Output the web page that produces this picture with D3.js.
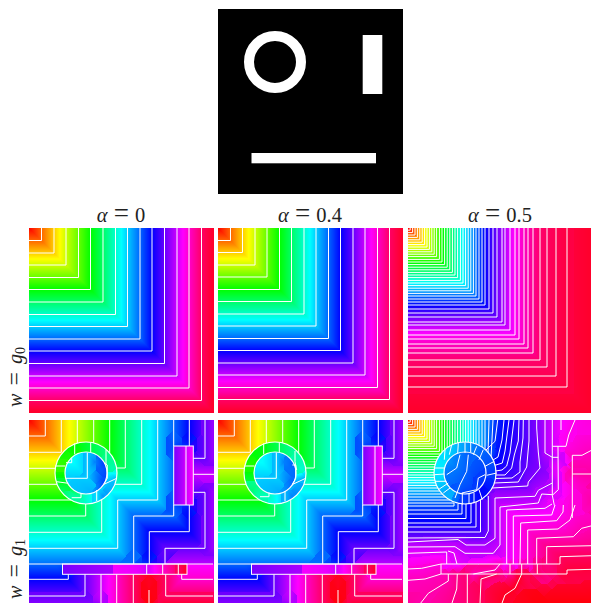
<!DOCTYPE html>
<html>
<head>
<meta charset="utf-8">
<script src="https://cdn.jsdelivr.net/npm/d3@7"></script>
<style>
html, body { margin: 0; padding: 0; background: #fff; }
svg { display: block; }
text { font-family: "Liberation Serif", serif; fill: #222; }
</style>
</head>
<body>
<svg id="fig" width="591" height="603"></svg>
<script>
var svg = d3.select("#fig");

// labels
var alphas = ["0", "0.4", "0.5"];
var rowNames = ["0", "1"];

// panel left/top edges, everything else is in image units 0..184
var colX = [29, 218, 408];
var rowY = [228, 420];
var topX = 218, topY = 9;
var side = 184;

// the input mask (ring + two bars)
var ring = { cx: 57, cy: 53, r0: 21, r1: 31 };
var rightBar = { x0: 144.7, x1: 164.3, y0: 26, y1: 85 };
var lowBar = { x0: 33.5, x1: 158, y0: 144, y1: 154.3 };

// contour positions of the plain L shaped fronts
var levelsA0 = [12.5, 25, 37, 49.5, 61.5, 74, 86.5, 98.5, 111, 123, 135.5, 148, 160, 172.5];
var levelsA04 = [12.5, 24.5, 37, 49, 61.5, 73.5, 86, 98, 110.5, 122.5, 135, 147, 159.5, 171.5];
var levelsA05 = [2.2, 4.6, 7, 9.4, 11.8, 14.2, 16.6, 19, 21.4, 23.8, 26.2, 28.6, 31.4, 34, 36.6, 39.2, 41.8, 44.4, 47, 49.6, 52.4, 55, 57.6, 60.2, 62.8, 65.4, 68, 71, 74, 77, 81, 85, 89, 94, 97, 102, 107, 111, 116, 120, 125, 132, 139, 148, 159];

var hueA05 = d3.scaleLinear([0, 17, 35, 55, 77, 105, 132, 159, 184], [0, 60, 120, 180, 240, 300, 335, 345, 350]);
var hueG1 = d3.scaleLinear([0, 17, 36, 60, 93, 128, 154, 184], [0, 60, 120, 180, 235, 270, 300, 315]);

// w = g1, alpha 0 and 0.4: outer field
var mainG1 = [
  [24, [16.3, 0], [16.3, 16], [0, 16]],
  [48, [32.3, 0], [32.3, 32.3], [0, 32.3]],
  [72, [48.3, 0], [48.3, 23]],
  [72, [0, 48.3], [26.5, 48.3]],
  [96, [64.7, 0], [64.7, 23]],
  [96, [0, 64.3], [28, 64.3]],
  [120, [80.7, 0], [80.7, 33]],
  [120, [0, 80], [42, 80]],
  [144, [96.3, 0], [96.3, 48], [87.6, 48]],
  [144, [0, 96], [56.7, 96], [56.7, 84]],
  [168, [112.7, 0], [112.7, 64.3], [85.5, 64.3]],
  [168, [0, 112.3], [72.7, 112.3], [72.7, 80]],
  [192, [128.7, 0], [128.7, 80], [88.7, 80], [88.7, 128.3], [0, 128.3]],
  [216, [144.7, 0], [144.7, 26]],
  [216, [144.7, 85], [144.7, 96], [104.7, 96], [104.7, 144]],
  [240, [160.3, 0], [160.3, 26]],
  [240, [160.3, 85], [160.3, 111.7], [120.3, 111.7], [120.3, 144]],
  [264, [176, 0], [176, 38.3], [164.3, 38.3]],
  [264, [164.3, 72.3], [176, 72.3], [176, 128.3], [136, 128.3], [136, 144]],
  [288, [164.3, 54.3], [185, 54.3]]
];
var mainG1Hidden = [
  [0, [0, 0], [0, 0]],
  [276, [184, 0], [184, 38]],
  [277, [184, 72], [184, 128]],
  [214, [0, 144], [104, 144]],
  [228, [105, 144], [120, 144]],
  [252, [121, 144], [135, 144]],
  [284, [137, 144], [184, 144]],
  [216, [144.7, 26], [144.7, 85]],
  [228, [146, 26], [159, 26]],
  [228, [146, 85], [159, 85]],
  [252, [162, 26], [164.3, 26]],
  [252, [162, 85], [164.3, 85]]
];
// below the long bar
var southG1 = [
  [240, [0, 159.3], [39.3, 159.3], [39.3, 154.3]],
  [264, [0, 176], [56, 176], [56, 154.3]],
  [288, [72, 154.3], [72, 184]],
  [312, [87.7, 154.3], [87.7, 184]],
  [336, [104.3, 154.3], [104.3, 184]],
  [358, [120, 170], [120, 184]],
  [336, [136.7, 154.3], [136.7, 176], [184, 176]],
  [312, [152.7, 154.3], [152.7, 159.3], [184, 159.3]]
];
var southG1Hidden = [
  [216, [0, 144], [33, 144]],
  [272, [0, 184], [70, 184]],
  [352, [120, 155], [120, 170]],
  [348, [137, 184], [184, 184]],
  [298, [159, 144], [184, 144]]
];
// inside the two bars
var rightBarG1 = [[288, [157, 26], [157, 85]]];
var rightBarG1Hidden = [[268, [144.7, 26], [144.7, 85]], [300, [164.3, 26], [164.3, 85]]];
var lowBarG1 = [
  [288, [117.7, 144], [117.7, 154.3]],
  [312, [133.7, 144], [133.7, 154.3]],
  [336, [149.3, 144], [149.3, 154.3]]
];
var lowBarG1Hidden = [[268, [33.5, 144], [33.5, 154.3]], [352, [158, 144], [158, 154.3]]];

// ring and disc, alpha 0
var annulusA0 = [
  [120, [45.7, 23.3], [45.7, 34.3]],
  [135, [61.7, 22.7], [61.7, 32.7]],
  [150, [77, 30], [77, 45]],
  [108, [26, 46], [36, 46]],
  [112, [42.7, 38.3], [42.7, 42.7], [37, 42.7]],
  [128, [27.7, 61.7], [39.3, 63.3]],
  [160, [52, 73.3], [52, 77.7], [42.7, 77.7]],
  [185, [67.7, 70], [67.7, 81]],
  [195, [87.7, 58.3], [75, 64.3]]
];
var annulusA0Hidden = [[205, [74, 76], [74, 76]], [162, [83, 48], [83, 48]], [142, [34, 70], [34, 70]], [117, [36, 32], [36, 32]]];
var discA0 = [
  [192, [58.3, 32.7], [58.3, 58.3], [36.7, 58.3]],
  [225, [75, 42.7], [78.3, 45], [78.3, 58.3], [75, 64]]
];
var discA0Hidden = [[178, [42, 40], [42, 40]], [198, [62, 72], [62, 72]], [210, [66, 42], [66, 42]]];

// ring and disc, alpha 0.4
var annulusA04 = [
  [125, [45.7, 23.3], [45.7, 34.3]],
  [140, [61.3, 22.7], [61.3, 32.7]],
  [158, [77, 31], [77, 41.7], [78.7, 50]],
  [112, [26.3, 46], [36.3, 46]],
  [165, [42, 76.7], [51, 76.7], [51, 72.7]],
  [195, [67, 71], [67, 81]],
  [200, [87.7, 58.3], [74.7, 64.3]]
];
var annulusA04Hidden = [[210, [74, 76], [74, 76]], [170, [83, 48], [83, 48]], [146, [34, 70], [34, 70]], [120, [36, 32], [36, 32]]];
var discA04 = [
  [192, [58.3, 32.7], [58.3, 58.3], [36.3, 58.3]],
  [216, [74.3, 45], [77.7, 45], [77.7, 58.3], [74.3, 64.3]]
];
var discA04Hidden = [[178, [42, 40], [42, 40]], [200, [62, 72], [62, 72]], [210, [66, 42], [66, 42]]];

// w = g1, alpha 0.5: fronts that turn around the ring and the bars
var cornerG1A05 = [2.2, 4.6, 7, 9.4, 11.8, 14.2, 16.6, 19, 21.4, 23.8, 26.2, 28.6, 31.4, 34, 36.6, 39.2, 41.8, 44.4, 47, 49.6, 52.4, 55, 57.6, 60.2, 62.8, 65.4, 68, 71, 74];
var mainA05 = [
  [hueG1(77), [77, 0], [77, 32]],
  [hueG1(81), [81, 0], [80, 34]],
  [hueG1(85), [85, 0], [83, 38]],
  [hueG1(77), [0, 77], [38, 77]],
  [hueG1(80), [0, 80], [42, 80]],
  [hueG1(83), [0, 83], [46, 83]],
  [232, [89.7, 0], [87, 21.3], [78, 30]],
  [238, [96, 0], [94, 20], [90, 37], [85, 40]],
  [243, [101, 0], [97, 31], [94.3, 43], [88, 45], [86, 45]],
  [248, [106, 0], [102, 33], [98.7, 46], [94, 50], [87.5, 51]],
  [253, [111, 0], [110.3, 21], [106.3, 35], [103.7, 48], [97, 55], [88, 55]],
  [257, [115.3, 0], [115, 18], [112, 42], [112, 52], [104, 58], [87, 58.5]],
  [263, [121, 0], [121, 21], [118.7, 47], [110.3, 62], [86, 63]],
  [270, [128.7, 0], [128.7, 8], [130.3, 32], [132, 48], [120.3, 62], [119.7, 66], [84, 68]],
  [282, [137, 0], [137, 33], [144.3, 37.3], [150.3, 37.3]],
  [224, [0, 86], [46, 86], [46, 83]],
  [229, [0, 90], [50, 90], [50, 84]],
  [233, [0, 94], [54, 94], [54, 84]],
  [238, [0, 98.5], [58, 98.5], [58, 84]],
  [243, [0, 103], [63, 103], [63, 83]],
  [249, [0, 107], [68, 107], [68, 82]],
  [256, [0, 112], [72.5, 112], [72.5, 80]],
  [266, [0, 118], [77, 117.5], [80.3, 111], [80.3, 76]],
  [280, [0, 122], [50, 119.5], [58, 125], [77, 125], [87, 118.3], [87, 78], [127, 76.3], [130.3, 70.3], [144.3, 63]],
  [287, [0, 127], [47, 126.7], [57, 133.3], [85.3, 133.3], [92, 125], [92, 87], [130.3, 83], [133.7, 74], [144.3, 74.7]],
  [295, [0, 133.3], [38.7, 132], [38.7, 144]],
  [295, [40, 131], [46, 133], [49, 144]],
  [295, [98.7, 144], [98.7, 90], [137, 88.3], [144, 84]],
  [300, [105.3, 144], [105.3, 96], [143.7, 95], [147, 85]],
  [305, [112, 144], [112.7, 103], [148.7, 100.7], [155, 92], [155.3, 85]],
  [310, [119.7, 144], [119.7, 110], [150, 109], [162, 100], [167, 85]],
  [318, [128.7, 144], [128.7, 118.3], [165.3, 116.7], [173.7, 108.3], [184, 105.7]],
  [328, [138.7, 144], [138.7, 126.7], [184, 125.7]],
  [338, [152, 144], [152, 136.7], [184, 135.7]],
  [346, [159, 154], [159, 150], [184, 149.3]],
  [308, [0, 149], [13.7, 148.3], [33, 144]],
  [316, [0, 160.3], [17, 159], [33, 154]],
  [320, [12, 184], [20.3, 173.3], [40.3, 161], [40.3, 154]],
  [328, [43.7, 184], [48.7, 169], [49.3, 154]],
  [334, [59.3, 184], [59.3, 154]],
  [340, [72, 184], [73, 159], [88.7, 154]],
  [352, [93.7, 184], [97, 175], [107, 168.3], [113.7, 154]],
  [315, [65.3, 154], [87, 150], [92, 144]],
  [322, [102, 144], [102, 154]],
  [330, [113.7, 144], [113.7, 154]],
  [338, [129.3, 144], [129.3, 154]],
  [290, [144.3, 0], [144.3, 26.3]],
  [296, [150, 26.3], [150.3, 69.7], [144.3, 75.3]],
  [298, [153, 0], [153, 10]],
  [305, [167, 0], [160.7, 15], [158, 26.3]],
  [315, [164.3, 35.3], [174, 35.3], [184, 30]],
  [322, [164.3, 54], [184, 54]]
];
var mainA05Hidden = [
  [0, [0, 0], [0, 0]],
  [308, [184, 0], [184, 0]],
  [321, [184, 80], [184, 80]],
  [323, [0, 184], [0, 184]],
  [358, [184, 184], [130, 184]],
  [308, [164.3, 60], [164.3, 85]]
];
// outlines that belong to the mask, not to a level
var outlineA05 = [
  [[33, 144], [152, 144]],
  [[33, 144], [33, 154], [159, 154]],
  [[144.3, 26.3], [144.3, 75.3], [146.3, 85.3]],
  [[144.3, 26.3], [158, 26.3]],
  [[164.3, 35.3], [164.3, 98]]
];
var annulusA05 = [
  [186, [37, 29.7], [36.3, 39.7]],
  [192, [43.7, 24.7], [41.3, 34.7]],
  [198, [50.3, 23], [49.7, 33]],
  [203, [57, 22.3], [57, 33]],
  [208, [62.7, 23], [62.7, 32.3]],
  [212, [68.7, 26.3], [65.3, 34.7]],
  [217, [75.3, 29.7], [71, 39.7]],
  [222, [86.3, 41.3], [77, 46.3]],
  [227, [88.7, 53], [78.7, 55.3]],
  [184, [27, 48], [36.3, 48]],
  [186, [26.3, 54.7], [36.3, 54]],
  [190, [27, 61.3], [38.7, 61.3]],
  [195, [30.3, 69.7], [40.3, 63]],
  [200, [35.3, 73], [42, 68]],
  [225, [54.3, 84.7], [54.3, 73]],
  [230, [61, 84], [61, 74]],
  [235, [66, 83.3], [66, 73]],
  [240, [74.3, 79.7], [71, 69.7]]
];
var discA05 = [
  [212, [38.7, 54.7], [48.7, 48], [52, 34.7]],
  [218, [60.3, 34.7], [58.7, 51.3], [52, 64.7], [47, 78]],
  [225, [77, 54.7], [70.3, 58], [68.7, 69.7], [53.7, 73]]
];
var discA05Hidden = [[206, [42, 42], [42, 42]], [230, [72, 64], [72, 64]]];

function ell(levels, hue) {
  return levels.map(function (p, i) { return [hue(p, i), [p, 0], [p, p], [0, p]]; });
}
var stepHue = function (p, i) { return (i + 1) * 24; };

// keep one rectangle per straight run, so the distance test below stays cheap
function toBoxes(lines) {
  var boxes = [];
  lines.forEach(function (l) {
    for (var i = 1; i < l.length - 1; i++) {
      var a = l[i], b = l[i + 1];
      var n = (a[0] == b[0] || a[1] == b[1]) ? 1 : Math.ceil(Math.hypot(b[0] - a[0], b[1] - a[1]) / 2);
      for (var k = 0; k < n; k++) {
        var xa = a[0] + (b[0] - a[0]) * k / n, xb = a[0] + (b[0] - a[0]) * (k + 1) / n;
        var ya = a[1] + (b[1] - a[1]) * k / n, yb = a[1] + (b[1] - a[1]) * (k + 1) / n;
        boxes.push([l[0], Math.min(xa, xb), Math.max(xa, xb), Math.min(ya, yb), Math.max(ya, yb)]);
      }
    }
  });
  return boxes;
}

function hueAt(boxes, x, y) {
  var d1 = 1e9, d2 = 1e9, h1 = 0, h2 = 0;
  for (var i = 0; i < boxes.length; i++) {
    var b = boxes[i];
    var dx = Math.max(b[1] - x, x - b[2], 0), dy = Math.max(b[3] - y, y - b[4], 0);
    var d = Math.max(dx, dy);
    if (d < d1) {
      if (b[0] != h1) { d2 = d1; h2 = h1; }
      d1 = d; h1 = b[0];
    } else if (b[0] != h1 && d < d2) { d2 = d; h2 = b[0]; }
  }
  return d1 + d2 == 0 ? h1 : (h1 * d2 + h2 * d1) / (d1 + d2);
}

function inRect(r, x, y) { return x >= r.x0 && x <= r.x1 && y >= r.y0 && y <= r.y1; }

// paint the hue field to an image; pick(x,y) says which box list a pixel uses
function fieldImage(pick) {
  var c = document.createElement("canvas");
  c.width = c.height = side + 1;
  var ctx = c.getContext("2d"), img = ctx.createImageData(side + 1, side + 1);
  for (var y = 0; y <= side; y++) {
    for (var x = 0; x <= side; x++) {
      var col = d3.hsl(hueAt(pick(x + 0.5, y + 0.5), x + 0.5, y + 0.5), 1, 0.5).rgb();
      var o = 4 * (y * (side + 1) + x);
      img.data[o] = col.r; img.data[o + 1] = col.g; img.data[o + 2] = col.b; img.data[o + 3] = 255;
    }
  }
  ctx.putImageData(img, 0, 0);
  return c.toDataURL();
}

var lineGen = d3.line();
function drawPanel(left, top, pick, lines, hasRing, idx) {
  var sx = d3.scaleLinear([0, side], [left, left + side]);
  var sy = d3.scaleLinear([0, side], [top, top + side]);
  var g = svg.append("g");
  g.append("image").attr("x", left).attr("y", top).attr("width", side + 1).attr("height", side + 1)
    .attr("href", fieldImage(pick));
  var toPath = function (pts) { return lineGen(pts.map(function (p) { return [sx(p[0]), sy(p[1])]; })); };
  // frame clip, with the ring cut out for the outer fronts
  var p = d3.path();
  p.rect(left, top, side + 1, side + 1);
  if (hasRing) {
    p.moveTo(sx(ring.cx + ring.r1), sy(ring.cy));
    p.arc(sx(ring.cx), sy(ring.cy), ring.r1, 0, 2 * Math.PI);
  }
  var clipId = "clip" + idx;
  svg.append("clipPath").attr("id", clipId).append("path").attr("d", p.toString()).attr("clip-rule", "evenodd");
  g.append("g").attr("clip-path", "url(#" + clipId + ")")
    .selectAll("path").data(lines.outer).enter().append("path")
    .attr("d", toPath).attr("fill", "none").attr("stroke", "#fff").attr("stroke-width", 1);
  g.append("g").selectAll("path").data(lines.inner || []).enter().append("path")
    .attr("d", toPath).attr("fill", "none").attr("stroke", "#fff").attr("stroke-width", 1);
  if (hasRing) {
    g.selectAll("circle").data([ring.r0, ring.r1]).enter().append("circle")
      .attr("cx", sx(ring.cx)).attr("cy", sy(ring.cy)).attr("r", function (d) { return d; })
      .attr("fill", "none").attr("stroke", "#fff").attr("stroke-width", 1.2);
  }
  if (lines.rects) {
    g.selectAll("rect").data(lines.rects).enter().append("rect")
      .attr("x", function (r) { return sx(r.x0); }).attr("y", function (r) { return sy(r.y0); })
      .attr("width", function (r) { return sx(r.x1) - sx(r.x0); })
      .attr("height", function (r) { return sy(r.y1) - sy(r.y0); })
      .attr("fill", "none").attr("stroke", "#fff").attr("stroke-width", 1);
  }
}
function ptsOnly(list) { return list.map(function (l) { return l.slice(1); }); }

// mask picture on top
var tx = d3.scaleLinear([0, side], [topX, topX + side]);
var ty = d3.scaleLinear([0, side], [topY, topY + side]);
svg.append("rect").attr("x", topX).attr("y", topY).attr("width", side + 1).attr("height", side + 1).attr("fill", "#000");
svg.append("circle").attr("cx", tx(ring.cx)).attr("cy", ty(ring.cy)).attr("r", (ring.r0 + ring.r1) / 2)
  .attr("fill", "none").attr("stroke", "#fff").attr("stroke-width", ring.r1 - ring.r0);
svg.selectAll("rect.mask").data([rightBar, lowBar]).enter().append("rect").attr("class", "mask")
  .attr("x", function (r) { return tx(r.x0); }).attr("y", function (r) { return ty(r.y0); })
  .attr("width", function (r) { return tx(r.x1) - tx(r.x0); })
  .attr("height", function (r) { return ty(r.y1) - ty(r.y0); })
  .attr("fill", "#fff");

// top row
var edgeHidden = [[0, [0, 0], [0, 0]], [350, [184, 0], [184, 184], [0, 184]]];
[levelsA0, levelsA04, levelsA05].forEach(function (levels, i) {
  var conts = ell(levels, i == 2 ? hueA05 : stepHue);
  var boxes = toBoxes(conts.concat(edgeHidden));
  drawPanel(colX[i], rowY[0], function () { return boxes; }, { outer: ptsOnly(conts) }, false, "t" + i);
});

// bottom row, alpha 0 and 0.4
var southBoxes = toBoxes(southG1.concat(southG1Hidden));
var mainBoxes = toBoxes(mainG1.concat(mainG1Hidden));
var rightBoxes = toBoxes(rightBarG1.concat(rightBarG1Hidden));
var lowBoxes = toBoxes(lowBarG1.concat(lowBarG1Hidden));
[[annulusA0, annulusA0Hidden, discA0, discA0Hidden], [annulusA04, annulusA04Hidden, discA04, discA04Hidden]].forEach(function (s, i) {
  var annBoxes = toBoxes(s[0].concat(s[1])), discBoxes = toBoxes(s[2].concat(s[3]));
  var pick = function (x, y) {
    var r = Math.hypot(x - ring.cx, y - ring.cy);
    if (r < ring.r0) return discBoxes;
    if (r < ring.r1) return annBoxes;
    if (inRect(rightBar, x, y)) return rightBoxes;
    if (inRect(lowBar, x, y)) return lowBoxes;
    return y > lowBar.y0 ? southBoxes : mainBoxes;
  };
  drawPanel(colX[i], rowY[1], pick, {
    outer: ptsOnly(mainG1.concat(southG1)).concat(ptsOnly(rightBarG1), ptsOnly(lowBarG1), [[[0, lowBar.y0], [side, lowBar.y0]]]),
    inner: ptsOnly(s[0].concat(s[2])),
    rects: [rightBar, lowBar]
  }, true, "b" + i);
});

// bottom row, alpha 0.5
var cornerConts = ell(cornerG1A05, function (p) { return hueG1(p); });
var boxesA05 = toBoxes(cornerConts.concat(mainA05, mainA05Hidden));
var annBoxesA05 = toBoxes(annulusA05);
var discBoxesA05 = toBoxes(discA05.concat(discA05Hidden));
drawPanel(colX[2], rowY[1], function (x, y) {
  var r = Math.hypot(x - ring.cx, y - ring.cy);
  if (r < ring.r0) return discBoxesA05;
  if (r < ring.r1) return annBoxesA05;
  return boxesA05;
}, {
  outer: ptsOnly(cornerConts.concat(mainA05)).concat(outlineA05),
  inner: ptsOnly(annulusA05.concat(discA05))
}, true, "b2");

// titles, the = is set larger to get the wide math sign
var titles = svg.selectAll("text.title").data(alphas).enter().append("text")
  .attr("class", "title").attr("text-anchor", "middle").attr("font-size", 20.5).attr("word-spacing", 1)
  .attr("x", function (d, i) { return colX[i] + 92; }).attr("y", 222);
titles.append("tspan").attr("font-style", "italic").text("α ");
titles.append("tspan").attr("font-size", 27).text("=");
titles.append("tspan").text(function (d) { return " " + d; });

// row labels sit low, next to the bottom of each row
var rowLabelY = [377, 569];
var rowLabels = svg.selectAll("text.row").data(rowNames).enter().append("text")
  .attr("class", "row").attr("text-anchor", "middle").attr("font-size", 20).attr("word-spacing", 3)
  .attr("transform", function (d, i) { return "translate(22," + rowLabelY[i] + ") rotate(-90)"; });
rowLabels.append("tspan").attr("font-style", "italic").text("w ");
rowLabels.append("tspan").attr("font-size", 24).text("=");
rowLabels.append("tspan").attr("font-style", "italic").text(" g");
rowLabels.append("tspan").attr("font-size", 14).attr("dy", 3).text(function (d) { return d; });
</script>
</body>
</html>
